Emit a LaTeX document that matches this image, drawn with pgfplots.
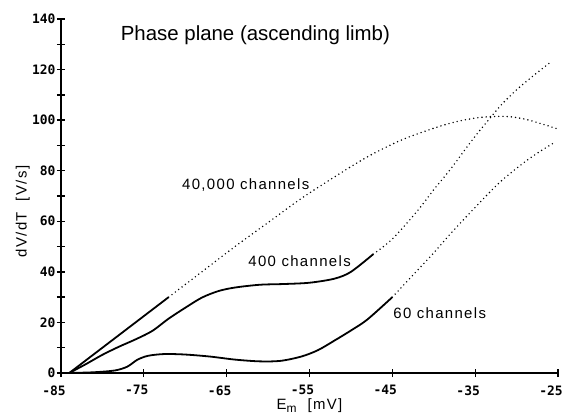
\documentclass[border=0pt]{standalone}
\usepackage{fontspec}
\setmainfont{Liberation Sans}
\newfontfamily\lblfont{Liberation Sans}[LetterSpace=9]
\newfontfamily\tickfont{DejaVu Sans Mono Bold}
\usepackage{pgfplots}
\pgfplotsset{compat=1.18}

\begin{document}
\begin{tikzpicture}
\begin{axis}[
    name=ax,
    scale only axis,
    width=497bp, height=354bp,
    xmin=-85, xmax=-25, ymin=0, ymax=140,
    axis lines=left,
    axis line style={-, line width=1.7bp},
    xtick={-85,-75,-65,-55,-45,-35,-25},
    xticklabels={-85,-75,-65,-55,-45,-35,-25},
    ytick={0,20,40,60,80,100,120,140},
    yticklabels={0,20,40,60,80,100,120,140},
    minor ytick={10,30,50,70,90,110,130},
    tick align=center,
    major tick length=8bp, minor tick length=8bp,
    every tick/.style={black, line width=1.3bp},
    tick label style={font=\tickfont\fontsize{13}{13}\selectfont},
    yticklabel style={xshift=2bp},
    xticklabel style={xshift=-7bp, yshift=-5bp},
    xlabel={E\raisebox{-3.5bp}{\fontsize{12}{12}\selectfont m}\ \ [mV]},
    ylabel={dV/dT\ \ [V/s]},
    label style={font=\lblfont\fontsize{15}{15}\selectfont},
    xlabel style={at={(axis description cs:0.5,-0.092)}, anchor=center},
    ylabel style={at={(axis description cs:-0.077,0.456)}, anchor=center, rotate=0},
    clip=false,
    solidline/.style={black, line width=1.8bp, smooth},
    dotline/.style={black, line width=1.6bp, line cap=round, dash pattern=on 0bp off 4.2bp, smooth},
]
% 40,000 channels
\addplot[solidline] coordinates {(-84,0) (-80,10) (-76,20) (-72,30)};
\addplot[dotline] coordinates {
    (-72,30) (-68,40) (-64,50) (-60,59.5) (-56,69) (-52,77.5) (-48,85.5)
    (-44,92) (-40,96.8) (-37,99.6) (-34,101.2) (-31,101.4) (-28.5,100) (-25,96.5)};
% 400 channels
\addplot[solidline] coordinates {
    (-84,0) (-82,3.5) (-80,7.2) (-78,10.4) (-76,13.3) (-74,16.6) (-72,21.5)
    (-70,25.8) (-68,29.8) (-66,32.4) (-64,33.8) (-61,34.9) (-58,35.2) (-55,35.7)
    (-52,37.3) (-50,40) (-47.3,47)};
\addplot[dotline] coordinates {
    (-47.3,47) (-45,53) (-42,64) (-40,72.5) (-38,80.5) (-35.2,92.8) (-33,101.6)
    (-31.8,106.2) (-30,112) (-28,117.5) (-26.1,122.4)};
% 60 channels
\addplot[solidline] coordinates {
    (-84,0) (-81,0.3) (-78.5,1) (-77,2.5) (-75.8,5.2) (-74.5,6.8) (-72.5,7.5)
    (-70,7.3) (-67,6.5) (-64,5.3) (-61,4.6) (-58.5,4.8) (-56,6.5) (-54,9)
    (-52,12.8) (-50,16.8) (-48,21.2) (-45,30)};
\addplot[dotline] coordinates {
    (-45,30) (-42,40.5) (-40,47.5) (-38,55) (-35,65.5) (-32,75.5) (-29,83.5)
    (-27,88) (-25.5,91)};

\node[anchor=west, inner sep=0, font=\fontsize{20.5}{20.5}\selectfont] at (axis cs:-77.8,133.6) {Phase plane (ascending limb)};
\node[anchor=west, inner sep=0, font=\lblfont\fontsize{15}{15}\selectfont] at (axis cs:-70.4,74.3) {40,000 channels};
\node[anchor=west, inner sep=0, font=\lblfont\fontsize{15}{15}\selectfont] at (axis cs:-62.4,44.3) {400 channels};
\node[anchor=west, inner sep=0, font=\lblfont\fontsize{15}{15}\selectfont] at (axis cs:-44.9,23.7) {60 channels};
\end{axis}
\pgfresetboundingbox
\path[use as bounding box] ([xshift=-61bp,yshift=-44bp]ax.south west) rectangle ([xshift=5bp,yshift=19bp]ax.north east);
\end{tikzpicture}
\end{document}
